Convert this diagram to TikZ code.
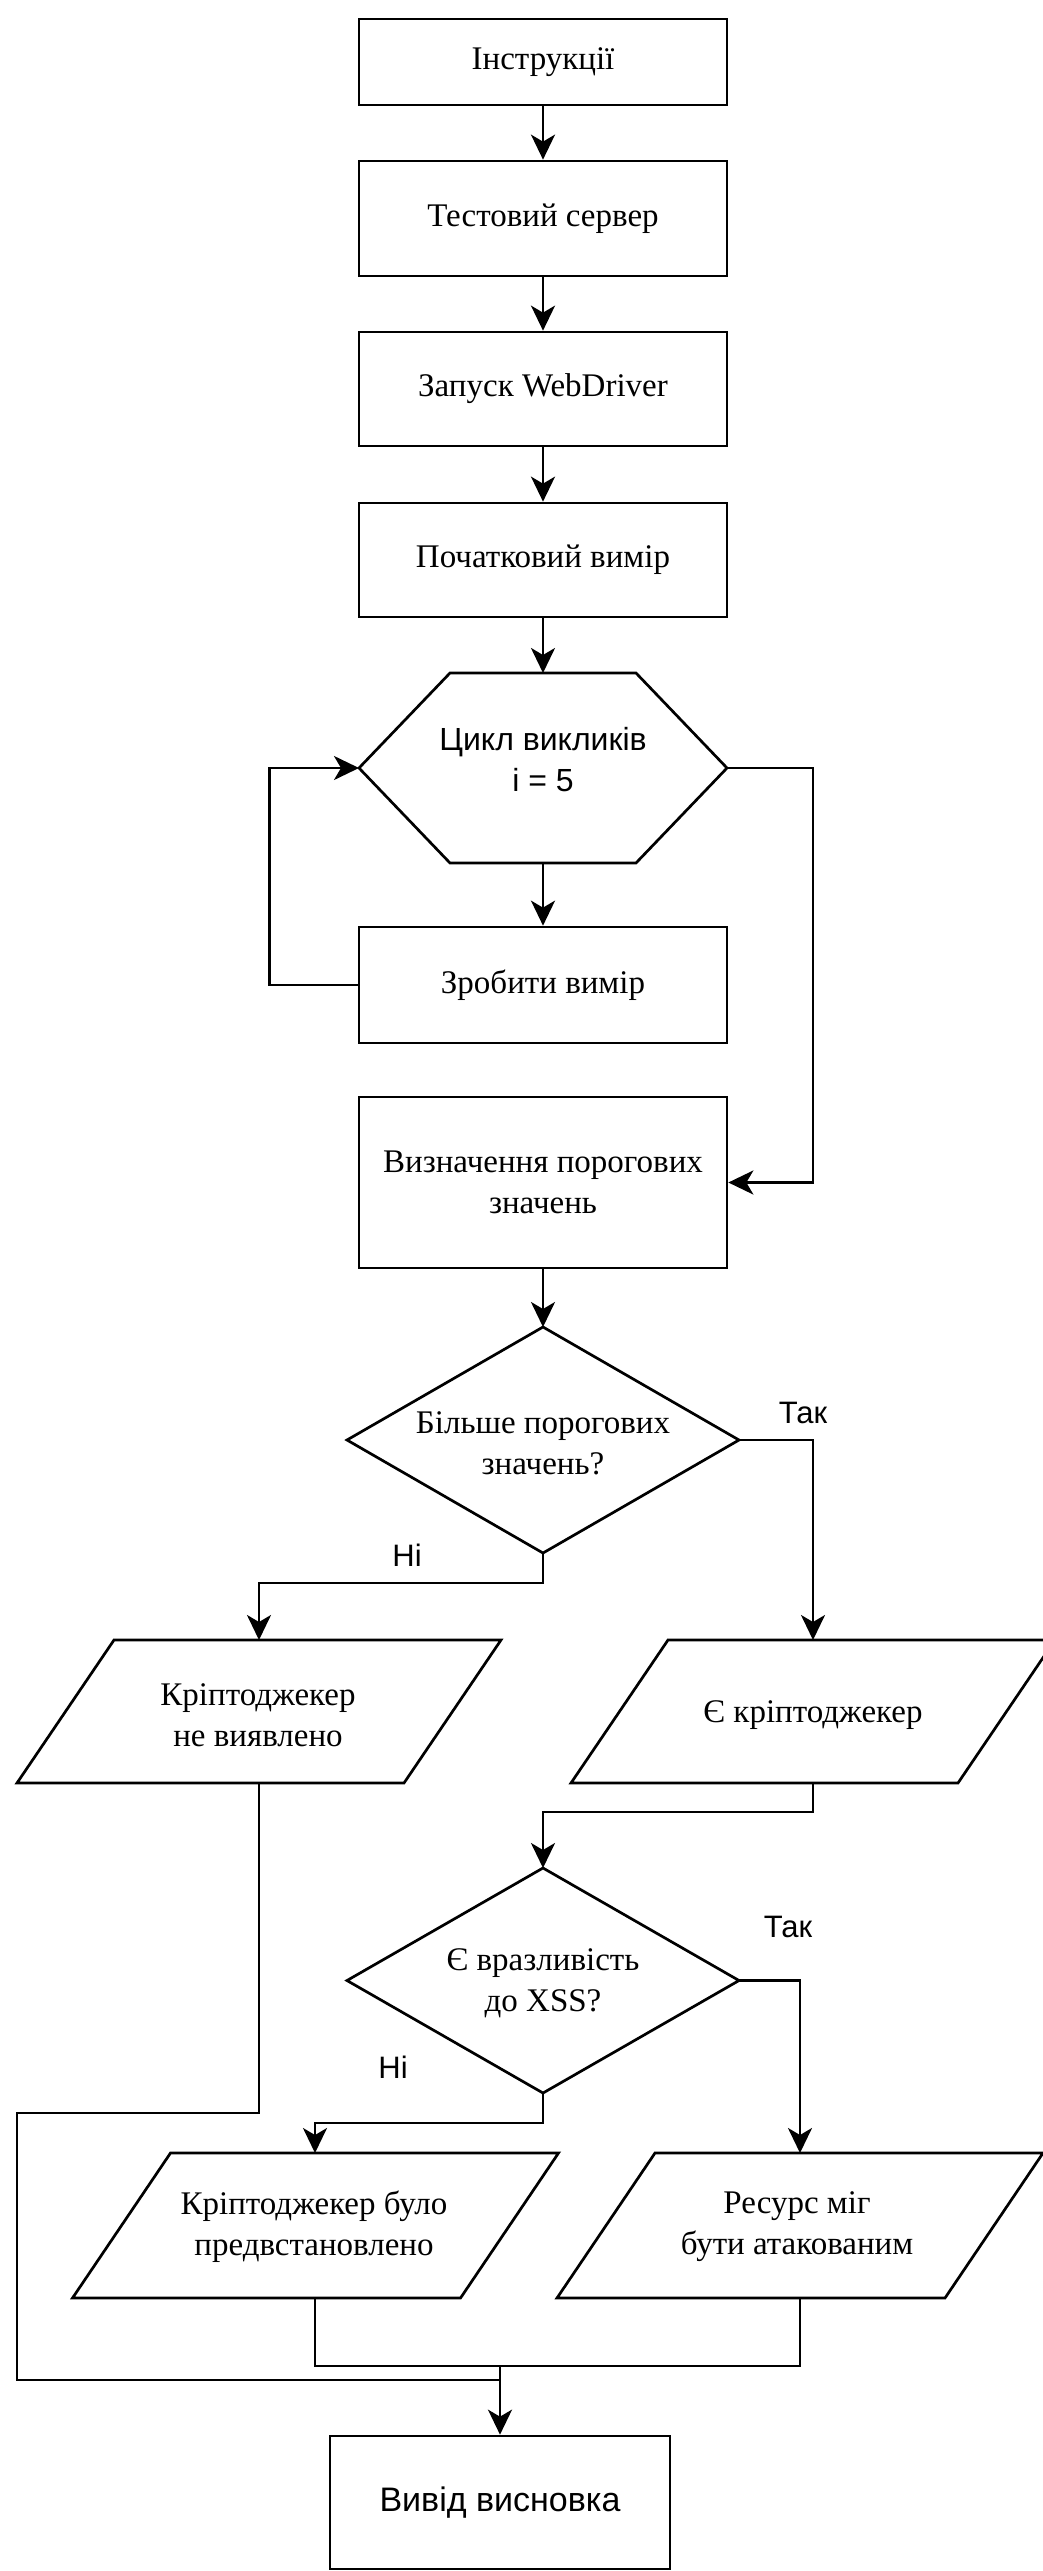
\documentclass[tikz,border=0pt]{standalone}
\usepackage{fontspec}
\setmainfont{Liberation Serif}
\newfontfamily\arialf{Liberation Sans}
\usetikzlibrary{arrows.meta}
\begin{document}
\begin{tikzpicture}[x=1pt,y=-1pt,
  every node/.style={inner sep=0pt, align=center},
  serifl/.style={font=\fontsize{33}{41}\selectfont},
  sansl/.style={font=\arialf\fontsize{32}{41}\selectfont},
  lbl/.style={font=\arialf\fontsize{31}{36}\selectfont},
  box/.style={draw, line width=2.7pt, minimum width=368pt, serifl},
  outline/.style={line width=2.7pt, line join=miter},
  conn/.style={line width=2.7pt},
  arr/.style={conn, -{Stealth[length=25pt,width=24pt,inset=7pt]}},
]
\fill[white] (0,0) rectangle (1043,2571);
\useasboundingbox (0,0) rectangle (1043,2571);

% --- straight sequence of steps ---
\node[box, minimum height=86pt]  (b1) at (543,62)    {Інструкції};
\node[box, minimum height=115pt] (b2) at (543,218.5) {Тестовий сервер};
\node[box, minimum height=114pt] (b3) at (543,389)   {Запуск WebDriver};
\node[box, minimum height=114pt] (b4) at (543,560)   {Початковий вимір};

% --- loop hexagon ---
\coordinate (hw) at (359,768);
\coordinate (he) at (727,768);
\coordinate (hn) at (543,673);
\coordinate (hs) at (543,863);
\draw[outline] (hw) -- (450,673) -- (636,673) -- (he) -- (636,863) -- (450,863) -- cycle;
\node[sansl] (cyc) at (543,760) {Цикл викликів\\i = 5};

\node[box, minimum height=116pt] (b5) at (543,985)    {Зробити вимір};
\node[box, minimum height=171pt] (b6) at (543,1182.5) {Визначення порогових\\значень};

\draw[arr] (b1.south) -- (b2.north);
\draw[arr] (b2.south) -- (b3.north);
\draw[arr] (b3.south) -- (b4.north);
\draw[arr] (b4.south) -- (hn);
\draw[arr] (hs) -- (b5.north);
\draw[arr] (b5.west) -- ++(-88,0) |- (hw);
\draw[arr] (he) -- ++(86,0) |- (b6.east);

% --- first decision ---
\coordinate (d1n) at (543,1327);
\coordinate (d1s) at (543,1553);
\coordinate (d1w) at (347,1440);
\coordinate (d1e) at (739,1440);
\draw[outline] (d1n) -- (d1e) -- (d1s) -- (d1w) -- cycle;
\node[serifl] (d1) at (543,1443) {Більше порогових\\значень?};
\draw[arr] (b6.south) -- (d1n);

% outputs of the first decision
\coordinate (pln) at (259,1640);
\coordinate (pls) at (259,1783);
\draw[outline] (17,1783) -- (404,1783) -- (501,1640) -- (114,1640) -- cycle;
\node[serifl] (pl) at (258,1715) {Кріптоджекер\\не виявлено};

\coordinate (prn) at (813,1640);
\coordinate (prs) at (813,1783);
\draw[outline] (571,1783) -- (958,1783) -- (1055,1640) -- (668,1640) -- cycle;
\node[serifl] (pr) at (813,1715) {Є кріптоджекер};

\draw[arr] (d1s) -- ++(0,30) -| (pln);
\draw[arr] (d1e) -| (prn);
\node[lbl] (no1)  at (407,1555) {Ні};
\node[lbl] (yes1) at (803,1413) {Так};

% --- second decision ---
\coordinate (d2n) at (543,1868);
\coordinate (d2s) at (543,2093);
\coordinate (d2w) at (347,1980.5);
\coordinate (d2e) at (739,1980.5);
\draw[outline] (d2n) -- (d2e) -- (d2s) -- (d2w) -- cycle;
\node[serifl] (d2) at (543,1983) {Є вразливість\\до XSS?};
\draw[arr] (prs) -- ++(0,29) -| (d2n);

\coordinate (p3n) at (315,2153);
\coordinate (p3s) at (315,2298);
\draw[outline] (72.5,2298) -- (460.5,2298) -- (558.5,2153) -- (170.5,2153) -- cycle;
\node[serifl] (p3) at (314,2227) {Кріптоджекер було\\предвстановлено};

\coordinate (p4n) at (800,2153);
\coordinate (p4s) at (800,2298);
\draw[outline] (557,2298) -- (945,2298) -- (1043,2153) -- (655,2153) -- cycle;
\node[serifl] (p4) at (797,2227) {Ресурс міг\\бути атакованим};

\draw[arr] (d2s) -- ++(0,30) -| (p3n);
\draw[arr] (d2e) -| (p4n);
\node[lbl] (no2)  at (393,2067) {Ні};
\node[lbl] (yes2) at (788,1927) {Так};

% --- joining the branches ---
\node[draw, line width=2.7pt, minimum width=340pt, minimum height=133pt,
      font=\arialf\fontsize{34}{41}\selectfont] (b7) at (500,2502.5) {Вивід висновка};
\coordinate (mg)  at (500,2366);
\coordinate (mg2) at (500,2380);
\draw[conn] (p3s) -- ++(0,68) -| (p4s);
\draw[conn] (pls) -- ++(0,330) -- ++(-242,0) |- (mg2);
\draw[arr] (mg) -- (b7.north);
\end{tikzpicture}
\end{document}
